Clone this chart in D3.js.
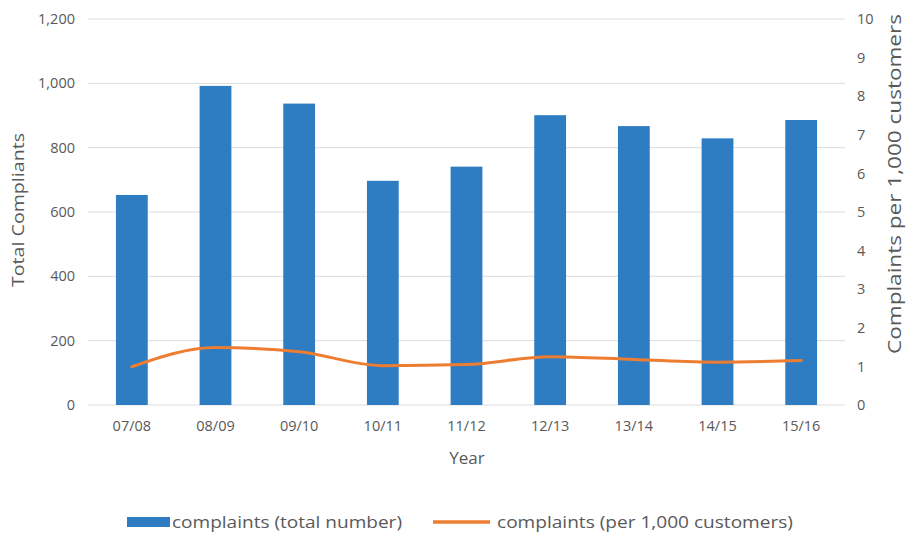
<!DOCTYPE html>
<html>
<head>
<meta charset="utf-8">
<script src="https://cdn.jsdelivr.net/npm/d3@7"></script>
<style>
  body { margin: 0; background: #fff; }
  svg { display: block; font-family: "Open Sans", Lato, sans-serif; }
</style>
</head>
<body>
<svg id="chart" width="906" height="539"></svg>
<script>
// Complaints by financial year
const years = ["07/08", "08/09", "09/10", "10/11", "11/12", "12/13", "13/14", "14/15", "15/16"];
const totalComplaints = [653, 992, 937, 697, 741, 901, 867, 829, 886];
const perThousand = [0.99, 1.49, 1.38, 1.02, 1.05, 1.25, 1.18, 1.11, 1.15];
const leftTicks = [0, 200, 400, 600, 800, 1000, 1200];
const rightTicks = [0, 1, 2, 3, 4, 5, 6, 7, 8, 9, 10];

const svg = d3.select("#chart");
const plot = { left: 90, right: 843, top: 19, bottom: 405 };
const barColor = "#2E7CC2";
const lineColor = "#ED7D31";
const textColor = "#595959";
const tickFont = "14.5px";

const x = d3.scaleBand().domain(years).range([plot.left, plot.right]).paddingInner(0.62).paddingOuter(0.31);
const yLeft = d3.scaleLinear().domain([0, 1200]).range([plot.bottom, plot.top]);
const yRight = d3.scaleLinear().domain([0, 10]).range([plot.bottom, plot.top]);

// horizontal gridlines
svg.append("g")
  .selectAll("line")
  .data(leftTicks)
  .join("line")
  .attr("x1", plot.left - 2).attr("x2", plot.right + 2)
  .attr("y1", d => yLeft(d)).attr("y2", d => yLeft(d))
  .attr("stroke", "#dcdcdc").attr("stroke-width", 1);

// left axis labels
const leftAxis = svg.append("g")
  .attr("transform", `translate(${plot.left - 15},0)`)
  .call(d3.axisLeft(yLeft).tickValues(leftTicks).tickFormat(d3.format(",")).tickSize(0).tickPadding(0));
leftAxis.select(".domain").remove();
leftAxis.selectAll("text").attr("fill", textColor).style("font-size", tickFont).style("font-family", "'Open Sans', sans-serif");

// right axis labels
const rightAxis = svg.append("g")
  .attr("transform", `translate(${plot.right + 14},0)`)
  .call(d3.axisRight(yRight).tickValues(rightTicks).tickSize(0).tickPadding(0));
rightAxis.select(".domain").remove();
rightAxis.selectAll("text").attr("fill", textColor).style("font-size", tickFont).style("font-family", "'Open Sans', sans-serif");

// bars
svg.append("g")
  .selectAll("rect")
  .data(years)
  .join("rect")
  .attr("x", d => x(d))
  .attr("width", x.bandwidth())
  .attr("y", (d, i) => yLeft(totalComplaints[i]))
  .attr("height", (d, i) => yLeft(0) - yLeft(totalComplaints[i]))
  .attr("fill", barColor);

// complaints per 1,000 customers line
const line = d3.line()
  .x((d, i) => x(years[i]) + x.bandwidth() / 2)
  .y(d => yRight(d))
  .curve(d3.curveMonotoneX);
svg.append("path")
  .datum(perThousand)
  .attr("d", line)
  .attr("fill", "none")
  .attr("stroke", lineColor)
  .attr("stroke-width", 3)
  .attr("stroke-linecap", "round")
  .attr("stroke-linejoin", "round");

// x axis labels
const xAxis = svg.append("g")
  .attr("transform", `translate(0,${plot.bottom + 16})`)
  .call(d3.axisBottom(x).tickSize(0).tickPadding(0));
xAxis.select(".domain").remove();
xAxis.selectAll("text").attr("fill", textColor).style("font-size", tickFont).style("font-family", "'Open Sans', sans-serif");

// axis titles
svg.append("text")
  .attr("x", 467).attr("y", 464)
  .attr("text-anchor", "middle").attr("fill", textColor)
  .style("font-size", "17px").text("Year");

svg.append("text")
  .attr("transform", "translate(24,210) rotate(-90)")
  .attr("text-anchor", "middle").attr("fill", textColor)
  .attr("textLength", 154).attr("lengthAdjust", "spacingAndGlyphs")
  .style("font-size", "17px").text("Total Compliants");

svg.append("text")
  .attr("transform", "translate(901,184) rotate(-90)")
  .attr("text-anchor", "middle").attr("fill", textColor)
  .attr("textLength", 340).attr("lengthAdjust", "spacingAndGlyphs")
  .style("font-size", "18px").text("Complaints per 1,000 customers");

// legend
const legend = svg.append("g").attr("transform", "translate(0,522)");
legend.append("rect").attr("x", 127).attr("y", -5).attr("width", 43).attr("height", 10).attr("fill", barColor);
legend.append("text").attr("x", 172).attr("y", 6).attr("fill", textColor)
  .attr("textLength", 230).attr("lengthAdjust", "spacingAndGlyphs")
  .style("font-size", "17px").text("complaints (total number)");
legend.append("line").attr("x1", 433).attr("x2", 490).attr("y1", 0).attr("y2", 0)
  .attr("stroke", lineColor).attr("stroke-width", 3.5);
legend.append("text").attr("x", 497).attr("y", 6).attr("fill", textColor)
  .attr("textLength", 296).attr("lengthAdjust", "spacingAndGlyphs")
  .style("font-size", "17px").text("complaints (per 1,000 customers)");
</script>
</body>
</html>
